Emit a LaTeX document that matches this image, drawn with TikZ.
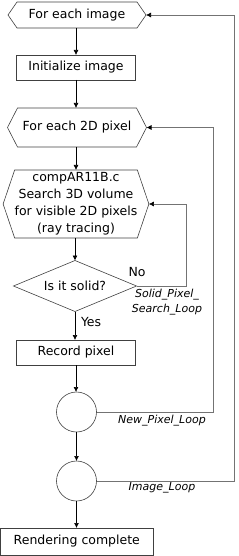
\documentclass[tikz,border=0pt]{standalone}
\usepackage{fontspec}
\setmainfont{DejaVu Sans}
\usetikzlibrary{arrows.meta,shapes.geometric}
\begin{document}
\begin{tikzpicture}[x=1pt,y=-1pt,
  every node/.style={inner sep=0pt, outer sep=0pt},
  txt/.style={font=\fontsize{12.5}{17}\selectfont, align=center},
  lbl/.style={font=\fontsize{11}{15}\selectfont\itshape, align=center},
  boxr/.style={txt, draw=black!75, line width=0.6pt, rectangle},
  hexcore/.style={txt, rectangle},
  hexline/.style={draw=black!75, line width=0.6pt},
  flow/.style={draw=black, line width=0.7pt, -{Latex[length=5pt,width=5pt]}},
  loop/.style={draw=black!55, line width=0.6pt, -{Latex[length=5pt,width=5pt,color=black]}},
  circ/.style={circle, draw=black!75, line width=0.6pt, minimum size=40pt},
  dia/.style={txt, diamond, draw=black!75, line width=0.6pt, aspect=2.4, minimum width=123pt, minimum height=51pt}
]
\useasboundingbox (0,0) rectangle (238,556);

% hexagon 1
\node[hexcore, minimum width=120pt, minimum height=26pt] (h1) at (77,15) {For each image};
\coordinate (h1e) at ([xshift=9pt]h1.east);
\coordinate (h1w) at ([xshift=-9pt]h1.west);
\draw[hexline] (h1.north west) -- (h1.north east) -- (h1e) -- (h1.south east) -- (h1.south west) -- (h1w) -- cycle;

\node[boxr, minimum width=119pt, minimum height=25pt] (init) at (76,67.5) {Initialize image};

% hexagon 2
\node[hexcore, minimum width=119pt, minimum height=39pt] (h2) at (77,127.5) {For each 2D pixel};
\coordinate (h2e) at ([xshift=10pt]h2.east);
\coordinate (h2w) at ([xshift=-10pt]h2.west);
\draw[hexline] (h2.north west) -- (h2.north east) -- (h2e) -- (h2.south east) -- (h2.south west) -- (h2w) -- cycle;

% hexagon 3
\node[hexcore, minimum width=118pt, minimum height=68pt] (h3) at (76,204) {compAR11B.c\\Search 3D volume\\for visible 2D pixels\\(ray tracing)};
\coordinate (h3e) at ([xshift=11.5pt]h3.east);
\coordinate (h3w) at ([xshift=-11.5pt]h3.west);
\draw[hexline] (h3.north west) -- (h3.north east) -- (h3e) -- (h3.south east) -- (h3.south west) -- (h3w) -- cycle;

\node[dia] (d) at (75,286) {Is it solid?};

\node[boxr, minimum width=119pt, minimum height=25pt] (rec) at (76,352.5) {Record pixel};

\node[circ] (c1) at (76.5,412) {};
\node[circ] (c2) at (76.5,481) {};

\node[boxr, minimum width=153pt, minimum height=27pt] (fin) at (76.8,541.5) {Rendering complete};

% labels
\node[txt] (no) at (137,272) {No};
\node[lbl] (sl) at (167,302) {Solid\_Pixel\_\\Search\_Loop};
\node[txt, anchor=west] (yes) at (81,322) {Yes};
\node[lbl] (npl) at (162,421) {New\_Pixel\_Loop};
\node[lbl] (il) at (162,488) {Image\_Loop};

% main flow
\draw[flow] (h1.south -| init.north) -- (init.north);
\draw[flow] (init.south) -- (init.south |- h2.north);
\draw[flow] (h2.south -| h3.north) -- (h3.north);
\draw[flow] (h3.south -| d.north) -- (d.north);
\draw[flow] (d.south) -- (d.south |- rec.north);
\draw[flow] (rec.south) -- (rec.south |- c1.north);
\draw[flow] (c1.south) -- (c2.north);
\draw[flow] (c2.south) -- (c2.south |- fin.north);

% loops
\coordinate (sx) at (186,0);
\coordinate (nx) at (213,0);
\coordinate (ix) at (234,0);
\draw[loop] (d.east) -- (d.east -| sx) -- (h3e -| sx) -- (h3e);
\draw[loop] (c1.east) -- (c1.east -| nx) -- (h2e -| nx) -- (h2e);
\draw[loop] (c2.east) -- (c2.east -| ix) -- (h1e -| ix) -- (h1e);
\end{tikzpicture}
\end{document}
